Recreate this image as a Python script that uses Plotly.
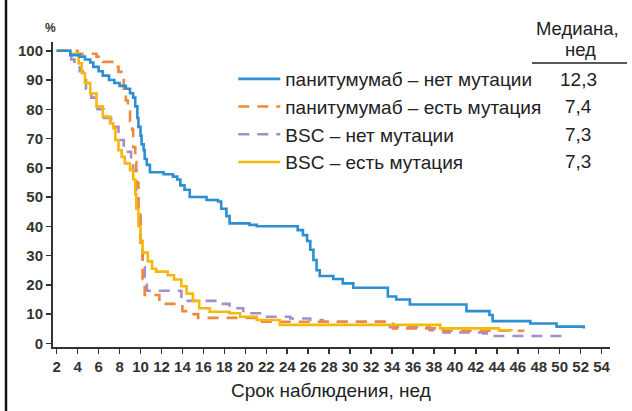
import plotly.graph_objects as go

# ---- data ----
x_ticks = list(range(2, 56, 2))
y_ticks = list(range(0, 101, 10))

names = ["панитумумаб – нет мутации", "панитумумаб – есть мутация",
         "BSC – нет мутации", "BSC – есть мутация"]
medians = ["12,3", "7,4", "7,3", "7,3"]

pan_wt_t = [2, 3.3, 4.2, 4.7, 5.2, 5.5, 6.0, 6.4, 7.0, 7.5, 8.0, 8.6, 9.0, 9.3, 9.5, 9.7, 9.8,
            10.0, 10.1, 10.3, 10.4, 10.6, 10.9, 12.2, 13.1, 13.5, 13.8, 14.2, 14.7, 16.3, 17.4,
            17.7, 18.2, 18.5, 20.4, 21.1, 25.0, 25.5, 25.9, 26.2, 26.5, 26.8, 27.1, 28.4, 29.3,
            30.3, 33.6, 34.4, 35.7, 41.1, 43.3, 43.6, 47.2, 49.7, 52.3]
pan_wt_s = [100, 98.5, 98, 97, 96, 94.5, 93, 91.5, 90, 89, 88, 87, 85.5, 84, 81, 77, 74,
            71, 68, 66, 63, 61, 58.5, 57.8, 57, 56, 54, 52.5, 50, 49, 48.5,
            46, 43.5, 41, 40.5, 40, 38.7, 37, 35, 32, 28.5, 25, 23, 22, 20.5,
            19, 16, 15, 13.3, 11, 9.7, 7.6, 6.8, 5.7, 5.1]

pan_mt_t = [2, 4.0, 5.8, 6.4, 7.6, 7.9, 8.2, 8.4, 8.6, 8.8, 9.0, 9.2, 9.3, 9.5, 9.6, 9.8, 10.0,
            10.2, 10.4, 11.8, 14.0, 14.7, 15.5, 21.1, 34.1, 38.6, 46.5]
pan_mt_s = [100, 99, 98, 96.2, 94.5, 92.8, 90, 87, 83, 80, 76, 73, 67, 62, 55, 44, 32,
            22, 16.5, 13.5, 11, 10, 8.7, 7.4, 5.1, 4.3, 4.0]

bsc_wt_t = [2, 3.4, 3.7, 4.2, 4.5, 4.8, 5.3, 5.9, 6.5, 7.2, 7.5, 7.9, 8.4, 9.1, 9.3, 9.6, 9.8,
            10.0, 10.2, 10.4, 10.6, 13.9, 17.6, 18.5, 19.8, 21.4, 24.3, 26.2, 27.4, 33.8, 37.6,
            38.9, 42.7, 43.3, 50.3]
bsc_wt_s = [100, 97, 95, 93, 90, 87, 84, 80, 77, 75, 74, 69.5, 65.5, 62, 59, 52, 43,
            35, 26, 20, 18, 14.5, 13.5, 12, 10.3, 9.1, 8.5, 8, 7.4, 5.5, 4.5,
            3.7, 3.4, 2.5, 2.5]

bsc_mt_t = [2, 3.3, 4.1, 4.4, 4.7, 5.2, 5.8, 6.4, 7.1, 7.4, 7.6, 7.9, 8.2, 8.5, 9.0, 9.3, 9.5,
            9.6, 9.8, 10.0, 10.2, 10.7, 11.1, 11.5, 12.6, 13.2, 13.9, 14.4, 15.0, 15.6, 16.6,
            18.5, 19.5, 21.1, 23.3, 38.6, 44.2, 45.4]
bsc_mt_s = [100, 99, 95.7, 92.3, 89, 85.4, 81, 77.5, 75.2, 73.5, 69.5, 66, 63.8, 61.5, 59.2, 56, 51,
            46, 40, 35, 31, 28, 25.5, 24.5, 23.3, 21.8, 19.5, 17, 14.5, 12, 10.8,
            10.3, 9.1, 8, 6.3, 5.1, 4.5, 4.2]

# ---- styling ----
BLUE = "#2b8fd2"
ORANGE = "#ec8a3e"
PURPLE = "#a68dca"
YELLOW = "#f6b80c"
FONT = "Liberation Sans, Arial, sans-serif"
TXT = "#222222"
AX = "#333333"

fig = go.Figure()

series = [
    # (t, s, name, color, dash, legendrank)
    (bsc_wt_t, bsc_wt_s, names[2], PURPLE, "11px,8px", 3),
    (pan_mt_t, pan_mt_s, names[1], ORANGE, "11px,8px", 2),
    (bsc_mt_t, bsc_mt_s, names[3], YELLOW, "solid", 4),
    (pan_wt_t, pan_wt_s, names[0], BLUE, "solid", 1),
]
for t, s, nm, col, dash, rank in series:
    fig.add_trace(go.Scatter(
        x=t, y=s, name=nm, mode="lines", line_shape="hv",
        line=dict(color=col, width=2.6, dash=dash),
        legendrank=rank, hoverinfo="skip",
    ))

# plot area in pixels: x 53..610, y 42..347
L, R, T, B = 53, 22, 42, 64
W, H = 632, 411
pw = W - L - R
ph = H - T - B


def px_x(p):
    return (p - L) / pw


def px_y(p):
    return (H - B - p) / ph


def label(text, x, y, size=19, bold=False, color=TXT):
    fig.add_annotation(x=px_x(x), y=px_y(y), xref="paper", yref="paper", text=text,
                       showarrow=False, xanchor="center", yanchor="middle",
                       font=dict(family=FONT, size=size, color=color,
                                 weight="bold" if bold else "normal"))


fig.update_layout(
    width=W, height=H,
    margin=dict(l=L, r=R, t=T, b=B, pad=0, autoexpand=False),
    paper_bgcolor="white", plot_bgcolor="white",
    font=dict(family=FONT, color=TXT),
    showlegend=True,
    legend=dict(
        x=px_x(233.3), y=px_y(60), xanchor="left", yanchor="top",
        font=dict(family=FONT, size=19, color=TXT),
        itemwidth=42, bgcolor="rgba(0,0,0,0)", borderwidth=0,
        tracegroupgap=0, itemclick=False, itemdoubleclick=False,
    ),
    xaxis=dict(
        range=[1.65, 54.8], tickvals=x_ticks, ticktext=[str(v) for v in x_ticks],
        showgrid=False, zeroline=False, showline=True, linecolor=AX, linewidth=2,
        ticks="outside", ticklen=5, tickwidth=1.5, tickcolor=AX, automargin=False,
        tickfont=dict(family=FONT, size=15, color="#333333", weight="bold"),
        fixedrange=True,
    ),
    yaxis=dict(
        range=[-1.25, 103], tickvals=y_ticks, ticktext=[str(v) for v in y_ticks],
        showgrid=False, zeroline=False, showline=True, linecolor=AX, linewidth=2,
        ticks="outside", ticklen=5, tickwidth=1.5, tickcolor=AX, automargin=False,
        tickfont=dict(family=FONT, size=15, color="#333333", weight="bold"),
        fixedrange=True,
    ),
)

# x axis title
label("Срок наблюдения, нед", 331, 390)
# "%" label
label("%", 50, 28, size=12, bold=True, color="#333333")
# median column header
label("Медиана,", 577, 28.5, size=18.5)
label("нед", 580, 49, size=18.5)
fig.add_shape(type="line", xref="paper", yref="paper",
              x0=px_x(532), x1=px_x(627), y0=px_y(63), y1=px_y(63),
              line=dict(color="#222222", width=1.5))

row_y = [79.3, 106.7, 134.3, 161.7]
for m, ry in zip(medians, row_y):
    label(m, 578, ry)

# left page frame line
fig.add_shape(type="line", xref="paper", yref="paper",
              x0=px_x(6), x1=px_x(6), y0=px_y(0), y1=px_y(411),
              line=dict(color="#111111", width=2.5))

fig.write_html("out.html", config={"displayModeBar": False, "staticPlot": True},
               post_script="document.body.style.margin='0';")
